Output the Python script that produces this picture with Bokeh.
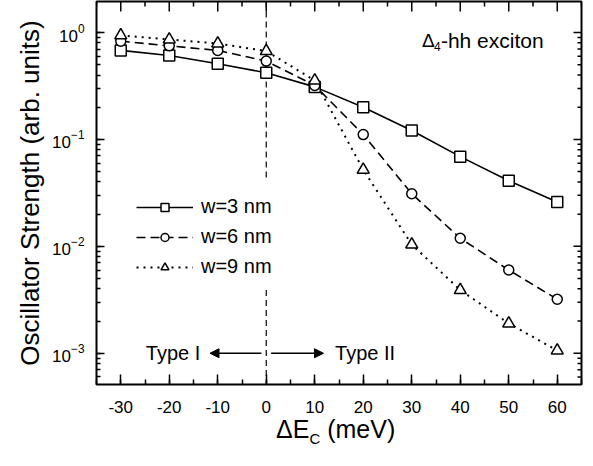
import math
from bokeh.plotting import figure
from bokeh.layouts import column
from bokeh.models import (Range1d, SingleIntervalTicker, LogTicker, Div, NumeralTickFormatter,
                          Legend, LegendItem, Label, Arrow, NormalHead)
from bokeh.embed import file_html
from bokeh.resources import INLINE

# ---- data ----
delta_ec = [-30, -20, -10, 0, 10, 20, 30, 40, 50, 60]
w3 = [0.68, 0.61, 0.51, 0.42, 0.31, 0.20, 0.121, 0.069, 0.041, 0.026]
w6 = [0.83, 0.75, 0.68, 0.54, 0.32, 0.111, 0.031, 0.0119, 0.0060, 0.0032]
w9 = [0.94, 0.86, 0.79, 0.67, 0.356, 0.052, 0.0104, 0.0039, 0.0019, 0.00106]
series_labels = ["w=3 nm", "w=6 nm", "w=9 nm"]

x_limits = (-35, 65)
y_limits = (5.1e-4, 1.95)
x_major_ticks = [-30, -20, -10, 0, 10, 20, 30, 40, 50, 60]
x_minor_ticks = [-35, -25, -15, -5, 5, 15, 25, 35, 45, 55, 65]
y_major_ticks = [1e-3, 1e-2, 1e-1, 1e0]
y_minor_ticks = [m * 10.0 ** e for e in (-4, -3, -2, -1, 0) for m in range(2, 10)]
y_minor_ticks = [v for v in y_minor_ticks if y_limits[0] < v < y_limits[1]]

# type-I / type-II boundary at ΔEc = 0 (dashed, interrupted by the legend)
boundary_x = 0
boundary_upper = (1.95, 0.041)
boundary_lower = (0.0039, 5.1e-4)
arrow_y = 1e-3
type1_arrow = (-1, -11.6)
type2_arrow = (1, 11.8)

FONT = "Liberation Sans"

p = figure(frame_width=485, frame_height=383,
           x_range=Range1d(*x_limits), y_range=Range1d(*y_limits), y_axis_type="log",
           output_backend="svg", toolbar_location=None,
           min_border_left=96, min_border_right=2, min_border_top=1, min_border_bottom=32,
           background_fill_color="white", border_fill_color="white")
p.xgrid.visible = False
p.ygrid.visible = False
p.outline_line_color = "black"
p.outline_line_width = 2
p.outline_line_alpha = 1

xa = p.xaxis[0]
xa.ticker = SingleIntervalTicker(interval=10, num_minor_ticks=2)
xa.formatter = NumeralTickFormatter(format="0")
ya = p.yaxis[0]
ya.ticker = LogTicker(num_minor_ticks=10, desired_num_ticks=4)
for ax, tin, tmin, st in ((xa, 10, 5, 16), (ya, 8, 4, 12)):
    ax.axis_line_color = None
    ax.major_tick_in = tin
    ax.major_tick_out = 0
    ax.minor_tick_in = tmin
    ax.minor_tick_out = 0
    ax.major_tick_line_width = 1.5
    ax.minor_tick_line_width = 1.5
    ax.major_tick_line_color = "black"
    ax.minor_tick_line_color = "black"
    ax.major_label_text_font = FONT
    ax.major_label_text_font_size = "17px"
    ax.major_label_text_color = "black"
    ax.major_label_standoff = st

ya.axis_label = "Oscillator Strength (arb. units)"
ya.axis_label_text_font = FONT
ya.axis_label_text_font_size = "26px"
ya.axis_label_text_font_style = "normal"
ya.axis_label_text_color = "black"
ya.axis_label_standoff = 4

# mirror ticks on the top and right frame edges (dash markers centred on the edge, half clipped)
p.scatter(x_major_ticks, [y_limits[1]] * len(x_major_ticks), marker="dash", angle=math.pi / 2,
          size=20, line_color="black", line_width=1.5)
p.scatter(x_minor_ticks, [y_limits[1]] * len(x_minor_ticks), marker="dash", angle=math.pi / 2,
          size=10, line_color="black", line_width=1.5)
p.scatter([x_limits[1]] * len(y_major_ticks), y_major_ticks, marker="dash",
          size=16, line_color="black", line_width=1.5)
p.scatter([x_limits[1]] * len(y_minor_ticks), y_minor_ticks, marker="dash",
          size=8, line_color="black", line_width=1.5)

# boundary line
p.line([boundary_x, boundary_x], list(boundary_upper), line_color="black", line_width=1.2, line_dash="6 4")
p.line([boundary_x, boundary_x], list(boundary_lower), line_color="black", line_width=1.2, line_dash="6 4")

# series
l3 = p.line(delta_ec, w3, line_color="black", line_width=1.6)
l6 = p.line(delta_ec, w6, line_color="black", line_width=1.6, line_dash="9 5")
l9 = p.line(delta_ec, w9, line_color="black", line_width=2, line_dash="2 5")
m3 = p.scatter(delta_ec, w3, marker="square", size=11, fill_color="white", line_color="black", line_width=1.5)
m6 = p.scatter(delta_ec, w6, marker="circle", size=10, fill_color="white", line_color="black", line_width=1.5)
m9 = p.scatter(delta_ec, w9, marker="triangle", size=12, fill_color="white", line_color="black", line_width=1.5)

legend = Legend(items=[LegendItem(label=series_labels[0], renderers=[l3, m3]),
                       LegendItem(label=series_labels[1], renderers=[l6, m6]),
                       LegendItem(label=series_labels[2], renderers=[l9, m9])],
                location=(40, 106), orientation="vertical",
                glyph_width=57, glyph_height=20, label_height=20, label_standoff=8,
                spacing=7, padding=0, margin=0,
                label_text_font=FONT, label_text_font_size="20px", label_text_color="black",
                label_text_baseline="middle",
                border_line_color=None, background_fill_alpha=0)
p.add_layout(legend, "center")

# arrows and type labels
for xs, xe in (type1_arrow, type2_arrow):
    p.add_layout(Arrow(end=NormalHead(size=9, fill_color="black", line_color="black", line_width=1),
                       x_start=xs, y_start=arrow_y, x_end=xe, y_end=arrow_y,
                       line_color="black", line_width=1.5))
p.add_layout(Label(x=-13.6, y=arrow_y, text="Type I", text_align="right", text_baseline="middle",
                   text_font=FONT, text_font_size="20px", text_color="black"))
p.add_layout(Label(x=14.2, y=arrow_y, text="Type II", text_align="left", text_baseline="middle",
                   text_font=FONT, text_font_size="20px", text_color="black"))

# Δ4-hh exciton
ann_x, ann_y = 32.1, 0.84
p.add_layout(Label(x=ann_x, y=ann_y, text="Δ", text_align="left", text_baseline="middle",
                   text_font=FONT, text_font_size="19px", text_color="black"))
p.add_layout(Label(x=ann_x, y=ann_y, x_offset=12, y_offset=-6, text="4", text_align="left",
                   text_baseline="middle", text_font=FONT, text_font_size="12px", text_color="black"))
p.add_layout(Label(x=ann_x, y=ann_y, x_offset=19, text="-hh exciton", text_align="left",
                   text_baseline="middle", text_font=FONT, text_font_size="21px", text_color="black"))

# x-axis title ΔE_C (meV) as real HTML text (for the subscript)
xtitle = Div(text="ΔE<sub style='font-size:15px'>C</sub> (meV)", width=583, height=40, margin=0,
             styles={"font-family": FONT, "font-size": "25px", "color": "black",
                     "padding-left": "276px", "line-height": "26px", "box-sizing": "border-box",
                     "white-space": "nowrap"})

layout = column(p, xtitle, spacing=0)
open("out.html", "w").write(file_html(layout, INLINE))
